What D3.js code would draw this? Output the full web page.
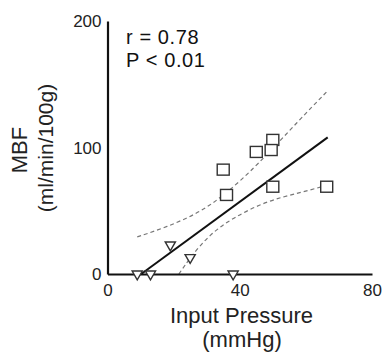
<!DOCTYPE html>
<html>
<head>
<meta charset="utf-8">
<script src="https://cdn.jsdelivr.net/npm/d3@7"></script>
<style>
  body { margin: 0; background: #fff; }
  svg { display: block; font-family: "Liberation Sans", Arial, sans-serif; }
  .tick-label { font-size: 17px; fill: #222; }
  .title { font-size: 22px; fill: #222; }
  .stat { font-size: 20px; fill: #111; letter-spacing: 0.6px; }
</style>
</head>
<body>
<svg id="chart" width="385" height="354"></svg>
<script>
// values
var squareX = [50, 49.5, 45, 35, 36, 50, 66.3];
var squareY = [106, 98, 96.5, 82.5, 62.5, 69, 69];
var triangleX = [9, 13, 38, 19, 25];
var triangleY = [0, 0, 0, 23, 13];
var fitX = [10.2, 66.6];
var fitY = [0, 108];
var upperX = [9, 17.8, 27.9, 36, 45.1, 58.2, 66.3];
var upperY = [29.3, 37, 48.5, 63.8, 85.4, 122.3, 144];
var lowerX = [21.6, 25, 30.9, 38, 48.1, 58.2, 66.3];
var lowerY = [0, 13, 31.4, 44.5, 57.7, 64.3, 70];
var xTicks = [0, 40, 80];
var yTicks = [0, 100, 200];

var svg = d3.select("#chart");
var plotLeft = 107.5, plotRight = 372, plotTop = 21, plotBottom = 274;

var x = d3.scaleLinear().domain([0, 80]).range([plotLeft, plotRight]);
var y = d3.scaleLinear().domain([0, 200]).range([plotBottom, plotTop]);

function pairs(xs, ys) {
  return xs.map(function(v, i) { return [v, ys[i]]; });
}

var line = d3.line()
  .x(function(d) { return x(d[0]); })
  .y(function(d) { return y(d[1]); });

var curve = d3.line()
  .x(function(d) { return x(d[0]); })
  .y(function(d) { return y(d[1]); })
  .curve(d3.curveBasis);

// confidence bands
svg.append("path")
  .datum(pairs(upperX, upperY))
  .attr("d", curve)
  .attr("fill", "none")
  .attr("stroke", "#777")
  .attr("stroke-width", 1.2)
  .attr("stroke-dasharray", "4,3");

svg.append("path")
  .datum(pairs(lowerX, lowerY))
  .attr("d", curve)
  .attr("fill", "none")
  .attr("stroke", "#777")
  .attr("stroke-width", 1.2)
  .attr("stroke-dasharray", "4,3");

// regression line
svg.append("path")
  .datum(pairs(fitX, fitY))
  .attr("d", line)
  .attr("fill", "none")
  .attr("stroke", "#111")
  .attr("stroke-width", 2);

// axes, no tick marks
var xAxis = svg.append("g")
  .attr("transform", "translate(0," + plotBottom + ")")
  .call(d3.axisBottom(x).tickValues(xTicks).tickSize(0).tickPadding(6));
var yAxis = svg.append("g")
  .attr("transform", "translate(" + plotLeft + ",0)")
  .call(d3.axisLeft(y).tickValues(yTicks).tickSize(0).tickPadding(6));

[xAxis, yAxis].forEach(function(g) {
  g.attr("font-size", null).attr("font-family", null);
  g.select(".domain").attr("stroke", "#111").attr("stroke-width", 2.2);
  g.selectAll("text").attr("class", "tick-label").attr("fill", null);
});
xAxis.selectAll("text").attr("dy", "0.95em");
yAxis.selectAll("text").attr("dy", "0.35em");

// markers
svg.append("g").selectAll("rect")
  .data(pairs(squareX, squareY))
  .enter().append("rect")
  .attr("x", function(d) { return x(d[0]) - 6; })
  .attr("y", function(d) { return y(d[1]) - 5.5; })
  .attr("width", 12)
  .attr("height", 11)
  .attr("fill", "#fff")
  .attr("stroke", "#333")
  .attr("stroke-width", 1.4);

var tri = d3.symbol().type(d3.symbolTriangle).size(45);
svg.append("g").selectAll("path")
  .data(pairs(triangleX, triangleY))
  .enter().append("path")
  .attr("d", tri)
  .attr("transform", function(d) {
    return "translate(" + x(d[0]) + "," + y(d[1]) + ") rotate(180)";
  })
  .attr("fill", "#fff")
  .attr("stroke", "#333")
  .attr("stroke-width", 1.4);

// stats annotation
svg.append("text").attr("class", "stat").attr("x", 126).attr("y", 44).text("r = 0.78");
svg.append("text").attr("class", "stat").attr("x", 126).attr("y", 67).text("P < 0.01");

// axis titles
svg.append("text").attr("class", "title").attr("text-anchor", "middle")
  .attr("x", 241.5).attr("y", 323).text("Input Pressure");
svg.append("text").attr("class", "title").attr("text-anchor", "middle")
  .attr("x", 242).attr("y", 347).text("(mmHg)");

svg.append("text").attr("class", "title").attr("text-anchor", "middle")
  .attr("transform", "translate(27,150) rotate(-90)").text("MBF");
svg.append("text").attr("class", "title").attr("text-anchor", "middle")
  .style("font-size", "21px")
  .attr("transform", "translate(53,148) rotate(-90)").text("(ml/min/100g)");
</script>
</body>
</html>
